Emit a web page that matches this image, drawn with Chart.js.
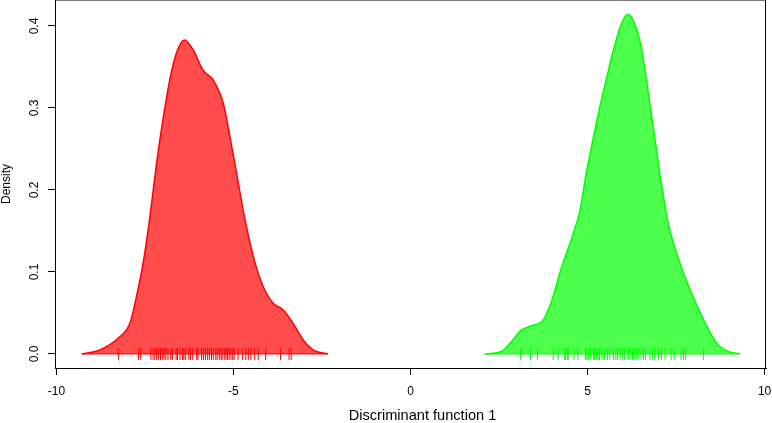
<!DOCTYPE html>
<html>
<head>
<meta charset="utf-8">
<script src="https://cdn.jsdelivr.net/npm/chart.js@4.4.1/dist/chart.umd.min.js"></script>
<style>
  html, body { margin: 0; padding: 0; background: #fff; }
  canvas { display: block; }
</style>
</head>
<body>
<canvas id="ldaChart" width="772" height="423"></canvas>
<script>
// density curves of the discriminant scores
const redX = [-9.28, -8.77, -8.21, -7.92, -7.74, -7.55, -7.36, -7.17, -6.98, -6.80, -6.61, -6.39,
  -6.14, -5.86, -5.57, -5.29, -5.10, -4.91, -4.73, -4.44, -4.16, -3.88, -3.60, -3.31, -3.03, -2.75, -2.33];
const redY = [0, 0.005, 0.021, 0.038, 0.070, 0.111, 0.167, 0.233, 0.289, 0.334, 0.367, 0.383,
  0.371, 0.346, 0.334, 0.306, 0.265, 0.220, 0.176, 0.119, 0.082, 0.062, 0.054, 0.037, 0.017, 0.005, 0];

const greenX = [2.10, 2.57, 2.85, 3.13, 3.46, 3.74, 3.98, 4.26, 4.55, 4.78, 4.97, 5.16, 5.34, 5.58,
  5.77, 5.96, 6.14, 6.33, 6.52, 6.71, 6.90, 7.09, 7.27, 7.56, 7.84, 8.12, 8.40, 8.69, 8.97, 9.30];
const greenY = [0, 0.003, 0.015, 0.029, 0.035, 0.041, 0.064, 0.105, 0.141, 0.174, 0.222, 0.263, 0.300, 0.344,
  0.377, 0.403, 0.414, 0.403, 0.373, 0.320, 0.263, 0.206, 0.161, 0.117, 0.084, 0.056, 0.031, 0.011, 0.003, 0];

// individual scores shown as a rug
const redRug = [-8.25, -7.68, -7.62, -7.33, -7.27, -7.22, -7.17, -7.12, -7.06, -7.01, -6.96, -6.91,
  -6.85, -6.77, -6.72, -6.62, -6.58, -6.51, -6.44, -6.40, -6.35, -6.26, -6.21, -6.15, -6.04, -6.00,
  -5.90, -5.85, -5.79, -5.73, -5.68, -5.62, -5.57, -5.50, -5.46, -5.40, -5.35, -5.32, -5.26, -5.21,
  -5.17, -5.12, -5.07, -5.02, -4.98, -4.87, -4.74, -4.65, -4.58, -4.51, -4.40, -4.30, -4.09, -3.67,
  -3.43, -3.37];
const greenRug = [3.11, 3.39, 3.59, 4.03, 4.17, 4.34, 4.38, 4.43, 4.47, 4.62, 4.73, 4.94, 4.98, 5.03,
  5.09, 5.17, 5.20, 5.25, 5.30, 5.34, 5.41, 5.48, 5.56, 5.63, 5.73, 5.80, 5.85, 5.92, 5.98, 6.04,
  6.15, 6.20, 6.27, 6.32, 6.39, 6.45, 6.51, 6.58, 6.64, 6.76, 6.83, 6.90, 7.00, 7.09, 7.19, 7.36,
  7.45, 7.64, 7.71, 7.77, 8.27];

const xTicks = [-10, -5, 0, 5, 10];
const yTicks = [0, 0.1, 0.2, 0.3, 0.4];
const xTitle = "Discriminant function 1";
const yTitle = "Density";

const RED = "rgb(255, 0, 0)";
const GREEN = "rgb(0, 255, 0)";
const FONT = "'Liberation Sans', Arial, sans-serif";

const toPoints = (xs, ys) => xs.map((x, i) => ({ x, y: ys[i] }));
const rugPoints = xs => xs.map(x => ({ x, y: 0 }));

function densityDataset(xs, ys, line, fill) {
  return {
    data: toPoints(xs, ys),
    showLine: true,
    fill: "origin",
    borderColor: line,
    backgroundColor: fill,
    borderWidth: 1.5,
    pointRadius: 0,
    cubicInterpolationMode: "monotone",
    order: 2,
  };
}

function baseDataset(xs, line) {
  return {
    data: [{ x: xs[0], y: 0 }, { x: xs[xs.length - 1], y: 0 }],
    showLine: true,
    borderColor: line,
    borderWidth: 1,
    pointRadius: 0,
    order: 1,
  };
}

function rugDataset(xs, line) {
  return {
    data: rugPoints(xs),
    showLine: false,
    pointStyle: "line",
    rotation: 90,
    pointRadius: 6,
    borderColor: line,
    backgroundColor: line,
    pointBorderWidth: 1,
    order: 0,
  };
}

// box around the plot region and the x label, which sits right of centre in the original
const framePlugin = {
  id: "plotFrame",
  afterDraw(chart) {
    const { ctx, chartArea: a } = chart;
    ctx.save();
    ctx.strokeStyle = "#000";
    ctx.lineWidth = 1;
    ctx.beginPath();
    ctx.moveTo(a.left, a.top);
    ctx.lineTo(a.right - 0.5, a.top);
    ctx.lineTo(a.right - 0.5, a.bottom);
    ctx.stroke();

    ctx.fillStyle = "#000";
    ctx.font = "14.6px " + FONT;
    ctx.textAlign = "center";
    ctx.textBaseline = "middle";
    ctx.fillText(xTitle, (a.left + a.right) / 2 + 12, 416);
    ctx.restore();
  },
};

Chart.defaults.font.family = FONT;
Chart.defaults.font.size = 12;
Chart.defaults.color = "#000";

new Chart(document.getElementById("ldaChart"), {
  type: "scatter",
  data: {
    datasets: [
      densityDataset(redX, redY, RED, "rgba(255, 0, 0, 0.7)"),
      densityDataset(greenX, greenY, GREEN, "rgba(0, 255, 0, 0.7)"),
      baseDataset(redX, RED),
      baseDataset(greenX, GREEN),
      rugDataset(redRug, RED),
      rugDataset(greenRug, GREEN),
    ],
  },
  options: {
    responsive: false,
    animation: false,
    devicePixelRatio: 1,
    layout: { autoPadding: false, padding: { left: 0, right: 6, top: 0, bottom: 0 } },
    plugins: {
      legend: { display: false },
      tooltip: { enabled: false },
    },
    scales: {
      x: {
        type: "linear",
        min: -10.04,
        max: 10.04,
        afterBuildTicks: s => { s.ticks = xTicks.map(v => ({ value: v })); },
        afterFit: s => { s.height = 55; s.paddingLeft = 0; s.paddingRight = 0; },
        border: { display: true, color: "#000", width: 1 },
        grid: { drawOnChartArea: false, drawTicks: true, tickLength: 7, color: "#000" },
        ticks: { padding: 9, maxRotation: 0, autoSkip: false, callback: v => String(v) },
      },
      y: {
        type: "linear",
        min: -0.0171,
        max: 0.4317,
        afterBuildTicks: s => { s.ticks = yTicks.map(v => ({ value: v })); },
        afterFit: s => { s.width = 55; s.paddingTop = 0; s.paddingBottom = 0; },
        border: { display: true, color: "#000", width: 1 },
        grid: { drawOnChartArea: false, drawTicks: true, tickLength: 7, color: "#000" },
        ticks: {
          padding: 5,
          minRotation: 90,
          maxRotation: 90,
          crossAlign: "center",
          autoSkip: false,
          callback: v => v.toFixed(1),
        },
        title: { display: true, text: yTitle, padding: { top: -1, bottom: 0 } },
      },
    },
  },
  plugins: [framePlugin],
});
</script>
</body>
</html>
